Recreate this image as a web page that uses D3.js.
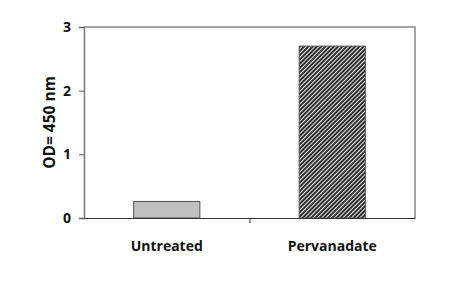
<!DOCTYPE html>
<html><head><meta charset="utf-8">
<script src="https://cdn.jsdelivr.net/npm/d3@7"></script>
<style>body{margin:0;background:#fff}svg{display:block}</style>
</head><body>
<svg id="c" width="453" height="288"></svg>
<script>
const categories = ["Untreated", "Pervanadate"];
const values = [0.26, 2.70];
const yTicks = [0, 1, 2, 3];
const yTitle = "OD= 450 nm";

const svg = d3.select("#c");
const m = {l: 84, r: 38, t: 27, b: 70};
const W = 453, H = 288;
const x = d3.scaleBand().domain(categories).range([m.l, W - m.r]).paddingInner(0.6).paddingOuter(0.3);
const y = d3.scaleLinear().domain([0, 3]).range([H - m.b, m.t]);

const defs = svg.append("defs");
const pat = defs.append("pattern").attr("id","hatch").attr("patternUnits","userSpaceOnUse")
  .attr("width",3).attr("height",3).attr("patternTransform","rotate(45)");
pat.append("rect").attr("width",3).attr("height",3).attr("fill","#222");
pat.append("rect").attr("x",0).attr("width",1.1).attr("height",3).attr("fill","#eee");

// frame (top/right)
svg.append("path").attr("d",`M${m.l},${m.t}H${W-m.r}V${H-m.b}`).attr("fill","none").attr("stroke","#888").attr("stroke-width",1.5);

const fills = ["#c0c0c0","url(#hatch)"];
svg.selectAll("rect.bar").data(values).join("rect").attr("class","bar")
  .attr("x",(d,i)=>x(categories[i])).attr("width",x.bandwidth())
  .attr("y",d=>y(d)).attr("height",d=>y(0)-y(d))
  .attr("fill",(d,i)=>fills[i]).attr("stroke","#555").attr("stroke-width",1);

const font = "'Open Sans', 'DejaVu Sans', sans-serif";
const yAxis = svg.append("g").attr("transform",`translate(${m.l},0)`)
  .call(d3.axisLeft(y).tickValues(yTicks).tickFormat(d3.format("d")).tickSize(5).tickPadding(8));
yAxis.select(".domain").attr("stroke","#777").attr("stroke-width",1.5);
yAxis.selectAll(".tick line").attr("stroke","#555");
yAxis.selectAll("text").attr("font-family",font).attr("font-weight","bold").attr("font-size",14).attr("fill","#111");

const xAxis = svg.append("g").attr("transform",`translate(0,${H-m.b})`)
  .call(d3.axisBottom(d3.scaleLinear().domain([0,1]).range([m.l, W-m.r])).tickValues([0.5]).tickFormat("").tickSize(5).tickSizeOuter(0));
xAxis.select(".domain").attr("stroke","#333").attr("stroke-width",1.2);
xAxis.selectAll(".tick line").attr("stroke","#333");

svg.selectAll("text.cat").data(categories).join("text").attr("class","cat")
  .attr("x",d=>x(d)+x.bandwidth()/2).attr("y",H-m.b+33)
  .attr("text-anchor","middle").attr("font-family",font).attr("font-weight","bold").attr("font-size",14).attr("fill","#111")
  .text(d=>d);

svg.append("text").attr("transform",`translate(55,${(m.t+H-m.b)/2}) rotate(-90)`)
  .attr("text-anchor","middle").attr("font-family",font).attr("font-weight","bold").attr("font-size",15.5).attr("fill","#111")
  .text(yTitle);
</script>
</body></html>
